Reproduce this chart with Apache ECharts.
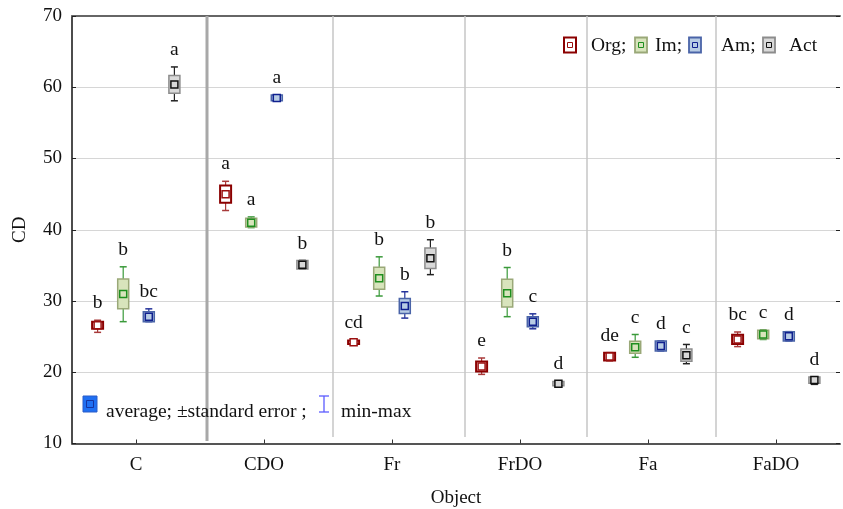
<!DOCTYPE html>
<html>
<head>
<meta charset="utf-8">
<script src="https://cdn.jsdelivr.net/npm/echarts@6/dist/echarts.min.js"></script>
<style>
  html, body { margin: 0; padding: 0; background: #ffffff; }
  #chart { width: 843px; height: 509px; }
</style>
</head>
<body>
<div id="chart"></div>
<script>
// ---- data ----
const categories = ['C', 'CDO', 'Fr', 'FrDO', 'Fa', 'FaDO'];
const groupNames = ['Org', 'Im', 'Am', 'Act'];
const yTicks = [10, 20, 30, 40, 50, 60, 70];

// Org
const orgMean = [26.6, 45.0, 24.2, 20.8, 22.2, 24.6];
const orgSE   = [0.5, 1.2, 0.25, 0.7, 0.55, 0.65];
const orgMin  = [25.6, 42.7, 23.8, 19.7, 21.6, 23.6];
const orgMax  = [27.3, 46.8, 24.6, 22.0, 22.75, 25.65];
const orgLetters = ['b', 'a', 'cd', 'e', 'de', 'bc'];

// Im
const imMean = [31.0, 41.0, 33.2, 31.1, 23.5, 25.3];
const imSE   = [2.1, 0.6, 1.55, 1.95, 0.85, 0.6];
const imMin  = [27.1, 40.3, 30.7, 27.8, 22.1, 24.6];
const imMax  = [34.8, 41.8, 36.2, 34.7, 25.3, 25.95];
const imLetters = ['b', 'a', 'b', 'b', 'c', 'c'];

// Am
const amMean = [27.8, 58.5, 29.3, 27.1, 23.7, 25.05];
const amSE   = [0.7, 0.4, 1.05, 0.7, 0.7, 0.65];
const amMin  = [27.1, 58.1, 27.6, 26.1, 23.0, 24.4];
const amMax  = [28.9, 58.9, 31.3, 28.2, 24.4, 25.7];
const amLetters = ['bc', 'a', 'b', 'c', 'd', 'd'];

// Act
const actMean = [60.4, 35.1, 36.0, 18.4, 22.4, 18.9];
const actSE   = [1.25, 0.6, 1.45, 0.3, 0.85, 0.45];
const actMin  = [58.1, 34.5, 33.7, 18.0, 21.2, 18.3];
const actMax  = [62.85, 35.7, 38.6, 18.8, 23.9, 19.3];
const actLetters = ['a', 'b', 'b', 'd', 'c', 'd'];

// ---- styles ----
const FONT = "'Liberation Serif', 'Times New Roman', serif";
const TEXT_SIZE = 19.5;
const AXIS_SIZE = 19;
const groupStyles = [
  { boxFill: '#ffffff', boxStroke: '#8b0000', boxWidth: 2,   meanStroke: '#9b1010', whisker: '#a83a3a' },
  { boxFill: '#d8e4bc', boxStroke: '#9aa878', boxWidth: 1.5, meanStroke: '#1f8f1f', whisker: '#3a9a3a' },
  { boxFill: '#b8cce4', boxStroke: '#4a64a8', boxWidth: 1.5, meanStroke: '#10208f', whisker: '#24329a' },
  { boxFill: '#d9d9d9', boxStroke: '#8c8c8c', boxWidth: 1.5, meanStroke: '#111111', whisker: '#222222' }
];

const groups = [
  { mean: orgMean, se: orgSE, min: orgMin, max: orgMax, letters: orgLetters },
  { mean: imMean,  se: imSE,  min: imMin,  max: imMax,  letters: imLetters },
  { mean: amMean,  se: amSE,  min: amMin,  max: amMax,  letters: amLetters },
  { mean: actMean, se: actSE, min: actMin, max: actMax, letters: actLetters }
];

function makeSeries(gi) {
  const g = groups[gi];
  const st = groupStyles[gi];
  const data = categories.map((c, i) => [i, g.mean[i], g.se[i], g.min[i], g.max[i]]);
  return {
    type: 'custom',
    name: groupNames[gi],
    data: data,
    encode: { x: 0, y: [1, 3, 4] },
    z: 5,
    renderItem: function (params, api) {
      const ci = api.value(0);
      const mean = api.value(1), se = api.value(2), mn = api.value(3), mx = api.value(4);
      const band = api.size([1, 0])[0];
      const x = api.coord([ci, mean])[0] + (gi - 1.5) * band * 0.2;
      const y = v => api.coord([ci, v])[1];
      const yTop = y(mean + se), yBot = y(mean - se);
      const yMax = y(mx), yMin = y(mn), yMean = y(mean);
      const boxW = 11, capW = 7, meanS = 7;
      return {
        type: 'group',
        children: [
          { type: 'line', shape: { x1: x, y1: yMax, x2: x, y2: yMin },
            style: { stroke: st.whisker, lineWidth: 1.2 } },
          { type: 'line', shape: { x1: x - capW / 2, y1: yMax, x2: x + capW / 2, y2: yMax },
            style: { stroke: st.whisker, lineWidth: 1.5 } },
          { type: 'line', shape: { x1: x - capW / 2, y1: yMin, x2: x + capW / 2, y2: yMin },
            style: { stroke: st.whisker, lineWidth: 1.5 } },
          { type: 'rect', shape: { x: x - boxW / 2, y: yTop, width: boxW, height: yBot - yTop },
            style: { fill: st.boxFill, stroke: st.boxStroke, lineWidth: st.boxWidth } },
          { type: 'rect', shape: { x: x - meanS / 2, y: yMean - meanS / 2, width: meanS, height: meanS },
            style: { fill: st.boxFill, stroke: st.meanStroke, lineWidth: 1.5 } },
          { type: 'text', x: x, y: Math.min(yMax, yTop) - 7,
            style: { text: g.letters[params.dataIndex], fill: '#111', font: TEXT_SIZE + 'px ' + FONT,
                     align: 'center', verticalAlign: 'bottom' } }
        ]
      };
    }
  };
}

// ---- decorations: column separators and legends ----
const separators = [
  { x: 207, width: 3,   color: '#a8a8a8', bottom: 441 },
  { x: 333, width: 1.5, color: '#c6c6c6', bottom: 437 },
  { x: 465, width: 1.5, color: '#c6c6c6', bottom: 437 },
  { x: 587, width: 1.5, color: '#c6c6c6', bottom: 437 },
  { x: 716, width: 1.5, color: '#c6c6c6', bottom: 437 }
];

const graphics = [];
separators.forEach(s => {
  graphics.push({
    type: 'line', z: 3,
    shape: { x1: s.x, y1: 16, x2: s.x, y2: s.bottom },
    style: { stroke: s.color, lineWidth: s.width }
  });
});

// group legend (top right)
const legendIconX = [564, 635, 689, 763];
const legendTextX = [591, 655, 721, 789];
groupNames.forEach((name, gi) => {
  const st = groupStyles[gi];
  const ix = legendIconX[gi];
  graphics.push({
    type: 'rect', z: 10,
    shape: { x: ix, y: 37.5, width: 12, height: 15 },
    style: { fill: st.boxFill, stroke: st.boxStroke, lineWidth: gi === 0 ? 2 : 1.8 }
  });
  graphics.push({
    type: 'rect', z: 11,
    shape: { x: ix + 3.5, y: 42.5, width: 5, height: 5 },
    style: { fill: st.boxFill, stroke: st.meanStroke, lineWidth: 1 }
  });
  graphics.push({
    type: 'text', z: 10, x: legendTextX[gi], y: 46,
    style: { text: name + (gi < groupNames.length - 1 ? ';' : ''), fill: '#111',
             font: TEXT_SIZE + 'px ' + FONT, align: 'left', verticalAlign: 'middle' }
  });
});

// statistics legend (bottom left)
graphics.push({
  type: 'rect', z: 10,
  shape: { x: 83, y: 396, width: 14, height: 16 },
  style: { fill: '#1f6ff2', stroke: '#2a5cc8', lineWidth: 1 }
});
graphics.push({
  type: 'rect', z: 11,
  shape: { x: 86.5, y: 400.5, width: 7, height: 7 },
  style: { fill: 'none', stroke: '#1533a0', lineWidth: 1 }
});
graphics.push({
  type: 'text', z: 10, x: 106, y: 412,
  style: { text: 'average; \u00b1standard error ;', fill: '#111', font: TEXT_SIZE + 'px ' + FONT,
           align: 'left', verticalAlign: 'middle' }
});
graphics.push({ type: 'line', z: 10, shape: { x1: 324, y1: 396, x2: 324, y2: 412 },
  style: { stroke: '#5b5bff', lineWidth: 1.3 } });
graphics.push({ type: 'line', z: 10, shape: { x1: 319, y1: 396, x2: 329, y2: 396 },
  style: { stroke: '#5b5bff', lineWidth: 1.3 } });
graphics.push({ type: 'line', z: 10, shape: { x1: 319, y1: 412, x2: 329, y2: 412 },
  style: { stroke: '#5b5bff', lineWidth: 1.3 } });
graphics.push({
  type: 'text', z: 10, x: 341, y: 412,
  style: { text: 'min-max', fill: '#111', font: TEXT_SIZE + 'px ' + FONT,
           align: 'left', verticalAlign: 'middle' }
});

const chart = echarts.init(document.getElementById('chart'), null, { renderer: 'canvas' });
chart.setOption({
  animation: false,
  backgroundColor: '#ffffff',
  textStyle: { fontFamily: FONT },
  grid: { left: 72, right: 3, top: 16, bottom: 65.5, containLabel: false, outerBoundsMode: 'none' },
  xAxis: [
    {
      type: 'category',
      data: categories,
      position: 'bottom',
      name: 'Object',
      nameLocation: 'middle',
      nameGap: 45,
      nameTextStyle: { fontFamily: FONT, fontSize: AXIS_SIZE, color: '#111' },
      axisLine: { show: true, lineStyle: { color: '#555555', width: 2 } },
      axisTick: { show: true, inside: true, length: 4, alignWithLabel: true,
                  lineStyle: { color: '#333' } },
      axisLabel: { fontFamily: FONT, fontSize: AXIS_SIZE, color: '#111', margin: 12 },
      splitLine: { show: false }
    },
    {
      type: 'category',
      data: categories,
      position: 'top',
      axisLine: { show: true, lineStyle: { color: '#666666', width: 2 } },
      axisTick: { show: false },
      axisLabel: { show: false },
      splitLine: { show: false }
    }
  ],
  yAxis: [
    {
      type: 'value',
      min: yTicks[0],
      max: yTicks[yTicks.length - 1],
      interval: 10,
      name: 'CD',
      nameLocation: 'middle',
      nameGap: 42,
      nameRotate: 90,
      nameTextStyle: { fontFamily: FONT, fontSize: AXIS_SIZE, color: '#111' },
      axisLine: { show: true, lineStyle: { color: '#111111', width: 1.5 } },
      axisTick: { show: true, inside: true, length: 4, lineStyle: { color: '#222' } },
      axisLabel: { fontFamily: FONT, fontSize: AXIS_SIZE, color: '#111', margin: 10 },
      splitLine: { show: true, lineStyle: { color: '#d6d6d6', width: 1 } }
    },
    {
      type: 'value',
      position: 'right',
      min: yTicks[0],
      max: yTicks[yTicks.length - 1],
      interval: 10,
      axisLine: { show: false },
      axisTick: { show: true, inside: true, length: 4, lineStyle: { color: '#222' } },
      axisLabel: { show: false },
      splitLine: { show: false }
    }
  ],
  series: groupNames.map((n, gi) => makeSeries(gi)),
  graphic: graphics
});
</script>
</body>
</html>
